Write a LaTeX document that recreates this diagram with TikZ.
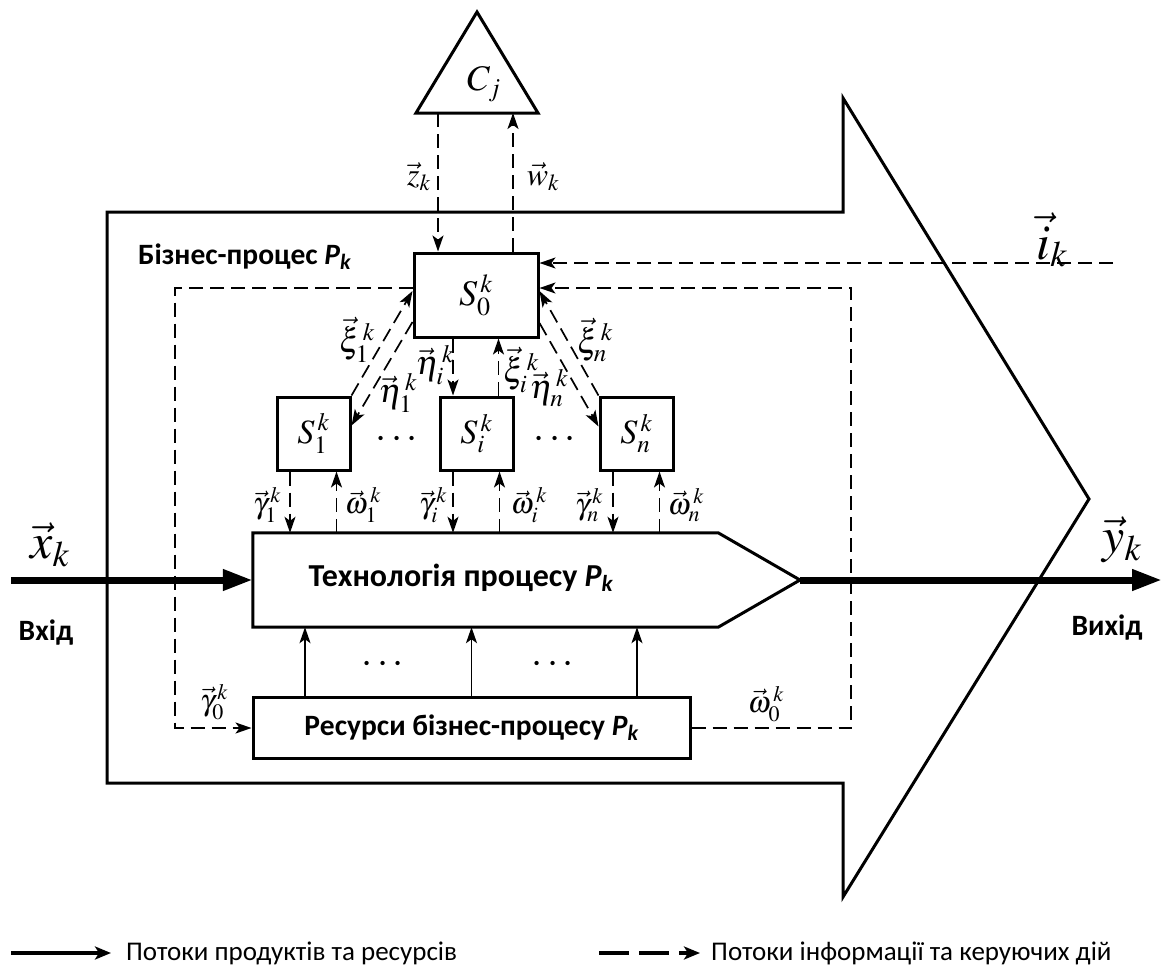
\documentclass[tikz,border=0pt]{standalone}
\usepackage{mathptmx}
\usepackage[no-math]{fontspec}
\setmainfont{Carlito}
\usetikzlibrary{arrows.meta}
\DeclareMathSizes{30}{30}{22}{16}
\DeclareMathSizes{32}{32}{23}{17}
\DeclareMathSizes{34}{34}{25}{18}
\DeclareMathSizes{36}{36}{26}{19}
\DeclareMathSizes{40}{40}{29}{21}
\DeclareMathSizes{50}{50}{36}{26}
\tikzset{
  outline/.style={draw,line width=3pt,line join=miter},
  sbox/.style={draw,line width=3pt,minimum width=73pt,minimum height=73pt,inner sep=0pt,font=\fontsize{34}{36}\selectfont},
  dsh/.style={line width=1.7pt,dash pattern=on 14pt off 7pt},
  darrow/.style={dsh,-{Stealth[length=16pt,width=11pt,inset=4pt]}},
  sarrow/.style={line width=1.8pt,-{Stealth[length=16pt,width=11pt,inset=4pt]}},
  biglbl/.style={font=\fontsize{36}{38}\selectfont,inner sep=0pt},
  mlbl/.style={font=\fontsize{34}{36}\selectfont,inner sep=0pt},
  zlbl/.style={font=\fontsize{32}{34}\selectfont,inner sep=0pt},
  slbl/.style={font=\fontsize{30}{32}\selectfont,inner sep=0pt},
  hugelbl/.style={font=\fontsize{50}{52}\selectfont,inner sep=0pt},
  btxt/.style={font=\fontsize{29.5}{32}\selectfont\bfseries,inner sep=0pt},
  techfont/.style={font=\fontsize{32}{34}\selectfont\bfseries,inner sep=0pt},
  legtxt/.style={font=\fontsize{27}{29}\selectfont,inner sep=0pt,anchor=west},
  thickarrow/.style={line width=7pt,-{Triangle[length=30pt,width=20pt]}},
  dotsl/.style={font=\fontsize{40}{42}\selectfont,inner sep=0pt}
}
\begin{document}
\begin{tikzpicture}[x=1pt,y=-1pt]
\useasboundingbox (0,0) rectangle (1162,974);
% big process arrow
\draw[outline] (107,212) -- (843,212) -- (843,98) -- (1089,499) -- (843,897) -- (843,783) -- (107,783) -- cycle;
% triangle C_j
\coordinate (apex) at (477,12);
\coordinate (tbl) at (416,113);
\coordinate (tbr) at (538,113);
\draw[outline] (apex) -- (tbr) -- (tbl) -- cycle;
\node[biglbl] (C) at (484,84) {$C_j$};
% S boxes
\node[draw,line width=3pt,minimum width=124pt,minimum height=84pt,inner sep=0pt,font=\fontsize{36}{38}\selectfont] (S0) at (476,295) {$S_{0}^{\,k}$};
\node[sbox] (S1) at (313.5,433.5) {$S_{1}^{\,k}$};
\node[sbox] (Si) at (476.5,433.5) {$S_{i}^{\,k}$};
\node[sbox] (Sn) at (636.5,433.5) {$S_{n}^{\,k}$};
\node[dotsl] (d1) at (397,440) {$\cdots$};
\node[dotsl] (d2) at (555,440) {$\cdots$};
% technology pentagon
\node[minimum width=465pt,minimum height=94pt,inner sep=0pt] (tech) at (485.5,580) {};
\coordinate (tip) at (800,580);
\draw[outline] (tech.north west) -- (tech.north east) -- (tip) -- (tech.south east) -- (tech.south west) -- cycle;
\node[techfont] (techtxt) at (461,578) {Технологія процесу {\itshape P\textsubscript{k}}};
% resources
\node[draw,line width=3pt,minimum width=437pt,minimum height=61pt,inner sep=0pt,btxt] (res) at (471.5,727.5) {Ресурси бізнес-процесу {\itshape P\textsubscript{k}}};
\node[dotsl] (d3) at (383,665) {$\cdots$};
\node[dotsl] (d4) at (553,665) {$\cdots$};
% business process label
\node[btxt,anchor=west] (bp) at (138,257) {Бізнес-процес {\itshape P\textsubscript{k}}};
% input / output
\coordinate (xin) at (11,580);
\coordinate (yout) at (1162,580);
\draw[thickarrow] (xin) -- (tech.west);
\draw[thickarrow] (tip) -- (yout);
\node[hugelbl] (xk) at (50,545) {$\vec{x}_k$};
\node[hugelbl] (yk) at (1122,540) {$\vec{y}_k$};
\node[hugelbl] (ik) at (1052,240) {$\vec{i}_k$};
\node[btxt] (vhid) at (46,633) {Вхід};
\node[btxt] (vyhid) at (1107,628) {Вихід};
% C_j <-> S0
\coordinate (zt) at (438,113);
\coordinate (wt) at (513,113);
\draw[darrow] (zt) -- (zt |- S0.north);
\draw[darrow] (wt |- S0.north) -- (wt);
\node[zlbl] (zl) at (419,177) {$\vec{z}_k$};
\node[zlbl] (wl) at (543,177) {$\vec{w}_k$};
% i_k
\coordinate (iend) at (1113,263);
\draw[darrow] (iend) -- (S0.east |- iend);
% dashed loop resources <-> S0
\coordinate (L1) at (175,288);
\coordinate (L2) at (175,728);
\coordinate (R1) at (851,288);
\coordinate (R2) at (851,728);
\draw[darrow] (S0.west |- L1) -- (L1) -- (L2) -- (res.west |- L2);
\draw[darrow] (res.east |- R2) -- (R2) -- (R1) -- (S0.east |- R1);
\node[slbl] (g0) at (214,702) {$\vec{\gamma}_0^{\,k}$};
\node[slbl] (w0) at (766,704) {$\vec{\omega}_0^{\,k}$};
% S0 <-> S1, Si, Sn
\draw[darrow] (S1.north east) -- ([yshift=4pt]S0.west);
\draw[darrow] ([yshift=-27pt]S0.west) -- ([yshift=8pt]S1.east);
\draw[darrow] (Sn.north west) -- ([yshift=4pt]S0.east);
\draw[darrow] ([yshift=-28pt]S0.east) -- ([yshift=7pt]Sn.west);
\draw[darrow] ([xshift=-23pt]S0.south) -- ([xshift=-23pt]S0.south |- Si.north);
\draw[darrow] ([xshift=22pt]Si.north) -- ([xshift=22pt]Si.north |- S0.south);
\node[mlbl] (xi1) at (357,340) {$\vec{\xi}_1^{\,k}$};
\node[mlbl] (eta1) at (398,393) {$\vec{\eta}_1^{\,k}$};
\node[mlbl] (etai) at (435,365) {$\vec{\eta}_i^{\,k}$};
\node[mlbl] (xii) at (521,370) {$\vec{\xi}_i^{\,k}$};
\node[mlbl] (etan) at (549,388) {$\vec{\eta}_n^{\,k}$};
\node[mlbl] (xin2) at (595,340) {$\vec{\xi}_n^{\,k}$};
% S boxes <-> technology
\foreach \s in {S1,Si,Sn}{
  \draw[darrow] ([xshift=-23.5pt]\s.south) -- ([xshift=-23.5pt]\s.south |- tech.north);
  \draw[darrow] ([xshift=23pt]\s.south |- tech.north) -- ([xshift=23pt]\s.south);
}
\node[slbl] (g1) at (267,505) {$\vec{\gamma}_1^{\,k}$};
\node[slbl] (w1) at (363,505) {$\vec{\omega}_1^{\,k}$};
\node[slbl] (gi) at (433,505) {$\vec{\gamma}_i^{\,k}$};
\node[slbl] (wi) at (529,505) {$\vec{\omega}_i^{\,k}$};
\node[slbl] (gn) at (589,505) {$\vec{\gamma}_n^{\,k}$};
\node[slbl] (wn) at (686,505) {$\vec{\omega}_n^{\,k}$};
% resources -> technology
\foreach \dx in {-166.5,0,165.5}{
  \draw[sarrow] ([xshift=\dx pt]res.north) -- ([xshift=\dx pt]res.north |- tech.south);
}
% legend
\coordinate (la1) at (11,953);
\coordinate (la2) at (111,953);
\coordinate (lb1) at (599,953);
\coordinate (lb2) at (700,953);
\draw[line width=3.5pt,-{Stealth[length=16pt,width=13pt,inset=4pt]}] (la1) -- (la2);
\draw[line width=4pt,dash pattern=on 30pt off 10pt,-{Stealth[length=16pt,width=13pt,inset=4pt]}] (lb1) -- (lb2);
\node[legtxt] (lt1) at (126,953) {Потоки продуктів та ресурсів};
\node[legtxt] (lt2) at (711,953) {Потоки інформації та керуючих дій};
\end{tikzpicture}
\end{document}
